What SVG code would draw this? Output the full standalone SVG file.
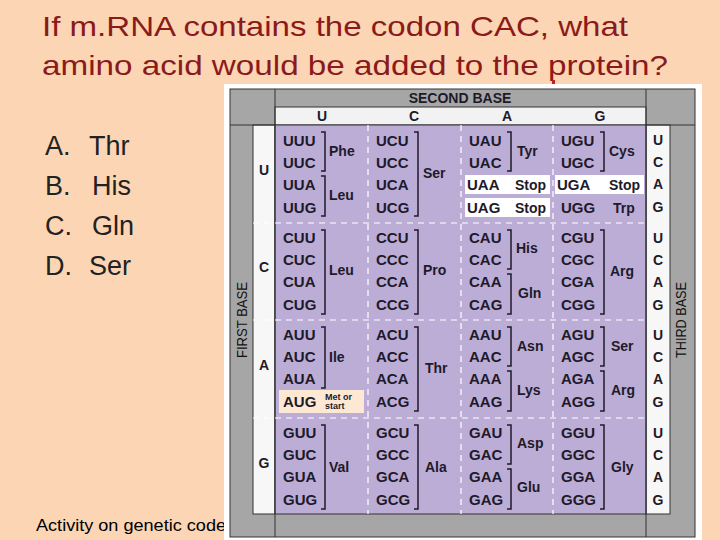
<svg xmlns="http://www.w3.org/2000/svg" width="720" height="540" viewBox="0 0 720 540">
<style>
.q{font-family:"Liberation Sans",Arial,sans-serif;font-size:28px;fill:#8b1a1a}
.o{font-family:"Liberation Sans",Arial,sans-serif;font-size:27px;fill:#222}
.c{font-family:"Liberation Sans",Arial,sans-serif;font-size:15px;font-weight:bold;fill:#1e1a2a}
.a{font-family:"Liberation Sans",Arial,sans-serif;font-size:14px;font-weight:bold;fill:#1e1a2a}
.h{font-family:"Liberation Sans",Arial,sans-serif;font-size:14px;font-weight:bold;fill:#1e1a2a;text-anchor:middle}
.v{font-family:"Liberation Sans",Arial,sans-serif;font-size:15px;fill:#111;text-anchor:middle}
.s{font-family:"Liberation Sans",Arial,sans-serif;font-size:9px;font-weight:bold;fill:#1e1a2a}
.b{fill:none;stroke:#1e1a2a;stroke-width:1.5}
.d{stroke:#fff;stroke-width:1.2;stroke-dasharray:6 5;fill:none}
.g{fill:#a6a6a6;stroke:#333;stroke-width:1}
</style>
<rect width="720" height="540" fill="#fcd5b4"/>
<g id="question">
<text class="q" x="42" y="36" textLength="586" lengthAdjust="spacingAndGlyphs">If m.RNA contains the codon CAC, what</text>
<text class="q" x="42" y="75" textLength="626" lengthAdjust="spacingAndGlyphs">amino acid would be added to the protein?</text>
<text class="o" x="45" y="155">A.</text><text class="o" x="89" y="155">Thr</text>
<text class="o" x="45" y="195">B.</text><text class="o" x="92" y="195">His</text>
<text class="o" x="45" y="235">C.</text><text class="o" x="92" y="235">Gln</text>
<text class="o" x="45" y="275">D.</text><text class="o" x="89" y="275">Ser</text>
<text x="36" y="531" font-family="Liberation Sans,Arial,sans-serif" font-size="16" fill="#000" textLength="190" lengthAdjust="spacingAndGlyphs">Activity on genetic code</text>
</g>
<rect x="552" y="80" width="3" height="6" fill="#c0202a"/>
<g id="table">
<rect x="224" y="84" width="478" height="456" fill="#fff"/>
<rect class="g" x="230" y="89" width="465" height="448"/>
<rect x="275" y="107" width="371" height="18" fill="#f2f2f2" stroke="#333"/>
<rect x="253" y="125" width="22" height="389" fill="#f7f7f7" stroke="#333"/>
<rect x="646" y="125" width="24" height="389" fill="#f7f7f7" stroke="#333"/>
<rect x="275" y="125" width="371" height="389" fill="#bcadd6" stroke="#333"/>
<line x1="275" y1="89" x2="275" y2="537" stroke="#333"/>
<line x1="646" y1="89" x2="646" y2="537" stroke="#333"/>
<line x1="230" y1="125" x2="275" y2="125" stroke="#333"/>
<line x1="646" y1="125" x2="695" y2="125" stroke="#333"/>
<text class="h" x="460" y="103">SECOND BASE</text>
<text class="h" x="322" y="121">U</text><text class="h" x="414" y="121">C</text><text class="h" x="507" y="121">A</text><text class="h" x="600" y="121">G</text>
<text class="v" transform="translate(247,320) rotate(-90)" textLength="76" lengthAdjust="spacingAndGlyphs">FIRST BASE</text>
<text class="v" transform="translate(686,320) rotate(-90)" textLength="76" lengthAdjust="spacingAndGlyphs">THIRD BASE</text>
<text class="h" x="264" y="175">U</text><text class="h" x="264" y="272">C</text><text class="h" x="264" y="370">A</text><text class="h" x="264" y="468">G</text>
</g>
<g id="connectors">
<path class="d" d="M368 125V514M461 125V514M553 125V514M253 223H646M253 320H646M253 418H646"/>
</g>
<g id="third">
<text class="h" x="658" y="145">U</text><text class="h" x="658" y="167">C</text><text class="h" x="658" y="189">A</text><text class="h" x="658" y="212">G</text>
<text class="h" x="658" y="243">U</text><text class="h" x="658" y="265">C</text><text class="h" x="658" y="287">A</text><text class="h" x="658" y="310">G</text>
<text class="h" x="658" y="340">U</text><text class="h" x="658" y="362">C</text><text class="h" x="658" y="384">A</text><text class="h" x="658" y="407">G</text>
<text class="h" x="658" y="438">U</text><text class="h" x="658" y="460">C</text><text class="h" x="658" y="482">A</text><text class="h" x="658" y="505">G</text>
</g>
<g id="highlights">
<rect x="465" y="175" width="85" height="19" fill="#fff"/>
<rect x="465" y="198" width="85" height="19" fill="#fff"/>
<rect x="555" y="175" width="89" height="19" fill="#fff"/>
<rect x="279" y="390" width="85" height="23" fill="#fde9d3"/>
</g>
<g id="cell-UU"><text class="c" x="283" y="146">UUU</text><text class="c" x="283" y="168">UUC</text><text class="c" x="283" y="190">UUA</text><text class="c" x="283" y="213">UUG</text>
<path class="b" d="M321 132H325V171H321M321 176H325V216H321"/><text class="a" x="329" y="156">Phe</text><text class="a" x="329" y="200">Leu</text></g>
<g id="cell-UC"><text class="c" x="376" y="146">UCU</text><text class="c" x="376" y="168">UCC</text><text class="c" x="376" y="190">UCA</text><text class="c" x="376" y="213">UCG</text>
<path class="b" d="M414 132H418V216H414"/><text class="a" x="423" y="178">Ser</text></g>
<g id="cell-UA"><text class="c" x="469" y="146">UAU</text><text class="c" x="469" y="168">UAC</text><text class="c" x="467" y="190">UAA</text><text class="c" x="467" y="213">UAG</text>
<path class="b" d="M507 132H511V171H507"/><text class="a" x="517" y="156">Tyr</text><text class="a" x="515" y="190">Stop</text><text class="a" x="515" y="213">Stop</text></g>
<g id="cell-UG"><text class="c" x="561" y="146">UGU</text><text class="c" x="561" y="168">UGC</text><text class="c" x="557" y="190">UGA</text><text class="c" x="561" y="213">UGG</text>
<path class="b" d="M600 132H604V171H600"/><text class="a" x="609" y="156">Cys</text><text class="a" x="609" y="190">Stop</text><text class="a" x="613" y="213">Trp</text></g>
<g id="cell-CU"><text class="c" x="283" y="243">CUU</text><text class="c" x="283" y="265">CUC</text><text class="c" x="283" y="287">CUA</text><text class="c" x="283" y="310">CUG</text>
<path class="b" d="M321 230H325V314H321"/><text class="a" x="329" y="275">Leu</text></g>
<g id="cell-CC"><text class="c" x="376" y="243">CCU</text><text class="c" x="376" y="265">CCC</text><text class="c" x="376" y="287">CCA</text><text class="c" x="376" y="310">CCG</text>
<path class="b" d="M414 230H418V314H414"/><text class="a" x="423" y="275">Pro</text></g>
<g id="cell-CA"><text class="c" x="469" y="243">CAU</text><text class="c" x="469" y="265">CAC</text><text class="c" x="469" y="287">CAA</text><text class="c" x="469" y="310">CAG</text>
<path class="b" d="M507 230H511V269H507M507 274H511V314H507"/><text class="a" x="516" y="253">His</text><text class="a" x="518" y="298">Gln</text></g>
<g id="cell-CG"><text class="c" x="561" y="243">CGU</text><text class="c" x="561" y="265">CGC</text><text class="c" x="561" y="287">CGA</text><text class="c" x="561" y="310">CGG</text>
<path class="b" d="M600 230H604V314H600"/><text class="a" x="610" y="276">Arg</text></g>
<g id="cell-AU"><text class="c" x="283" y="340">AUU</text><text class="c" x="283" y="362">AUC</text><text class="c" x="283" y="384">AUA</text><text class="c" x="283" y="407">AUG</text>
<path class="b" d="M321 327H325V388H321"/><text class="a" x="329" y="362">Ile</text>
<text class="s" x="325" y="400">Met or</text><text class="s" x="325" y="409">start</text></g>
<g id="cell-AC"><text class="c" x="376" y="340">ACU</text><text class="c" x="376" y="362">ACC</text><text class="c" x="376" y="384">ACA</text><text class="c" x="376" y="407">ACG</text>
<path class="b" d="M414 327H418V411H414"/><text class="a" x="425" y="373">Thr</text></g>
<g id="cell-AA"><text class="c" x="469" y="340">AAU</text><text class="c" x="469" y="362">AAC</text><text class="c" x="469" y="384">AAA</text><text class="c" x="469" y="407">AAG</text>
<path class="b" d="M507 327H511V366H507M507 371H511V411H507"/><text class="a" x="517" y="351">Asn</text><text class="a" x="517" y="395">Lys</text></g>
<g id="cell-AG"><text class="c" x="561" y="340">AGU</text><text class="c" x="561" y="362">AGC</text><text class="c" x="561" y="384">AGA</text><text class="c" x="561" y="407">AGG</text>
<path class="b" d="M600 327H604V366H600M600 371H604V411H600"/><text class="a" x="611" y="351">Ser</text><text class="a" x="611" y="395">Arg</text></g>
<g id="cell-GU"><text class="c" x="283" y="438">GUU</text><text class="c" x="283" y="460">GUC</text><text class="c" x="283" y="482">GUA</text><text class="c" x="283" y="505">GUG</text>
<path class="b" d="M321 425H325V509H321"/><text class="a" x="329" y="472">Val</text></g>
<g id="cell-GC"><text class="c" x="376" y="438">GCU</text><text class="c" x="376" y="460">GCC</text><text class="c" x="376" y="482">GCA</text><text class="c" x="376" y="505">GCG</text>
<path class="b" d="M414 425H418V509H414"/><text class="a" x="425" y="472">Ala</text></g>
<g id="cell-GA"><text class="c" x="469" y="438">GAU</text><text class="c" x="469" y="460">GAC</text><text class="c" x="469" y="482">GAA</text><text class="c" x="469" y="505">GAG</text>
<path class="b" d="M507 425H511V464H507M507 469H511V509H507"/><text class="a" x="517" y="448">Asp</text><text class="a" x="517" y="492">Glu</text></g>
<g id="cell-GG"><text class="c" x="561" y="438">GGU</text><text class="c" x="561" y="460">GGC</text><text class="c" x="561" y="482">GGA</text><text class="c" x="561" y="505">GGG</text>
<path class="b" d="M600 425H604V509H600"/><text class="a" x="611" y="472">Gly</text></g>
</svg>
